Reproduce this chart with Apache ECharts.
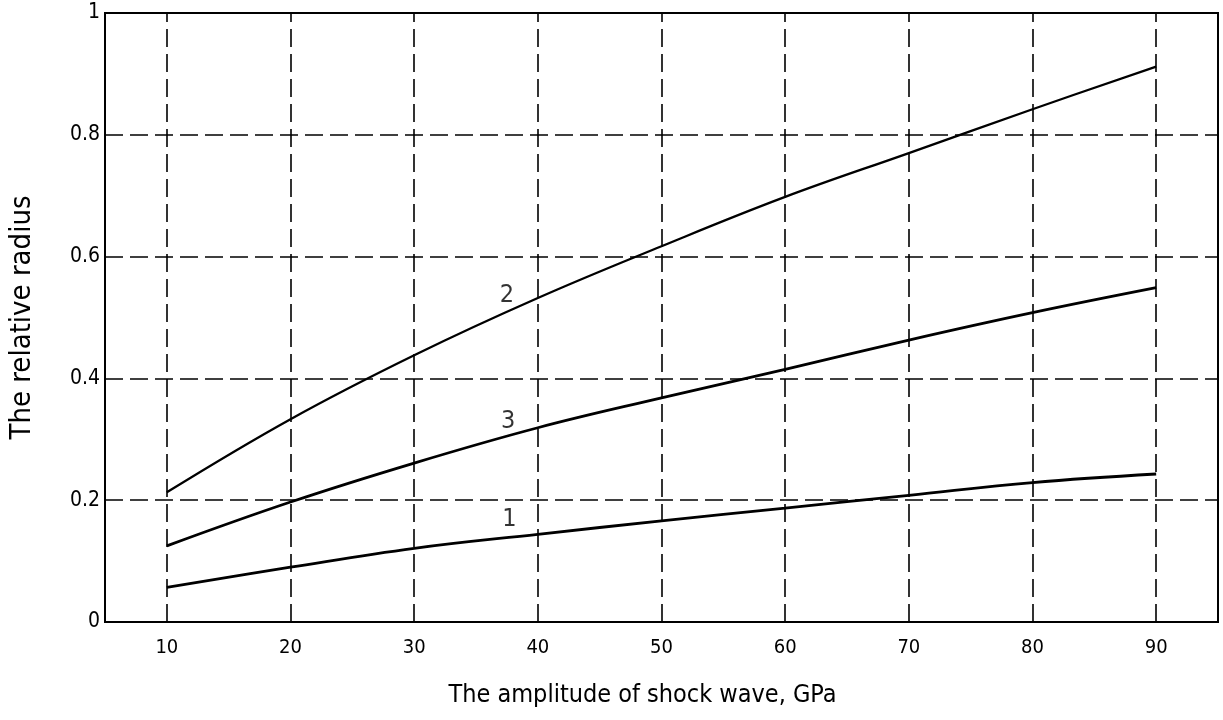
<!DOCTYPE html>
<html>
<head>
<meta charset="utf-8">
<script src="https://cdn.jsdelivr.net/npm/echarts@6/dist/echarts.min.js"></script>
<style>
  html, body { margin: 0; padding: 0; background: #fff; }
  #chart { width: 1223px; height: 720px; }
</style>
</head>
<body>
<div id="chart"></div>
<script>
// shock wave amplitude, GPa
const amplitude = [10, 20, 30, 40, 50, 60, 70, 80, 90];
// relative radius, curves 1..3
const curve1 = [0.057, 0.090, 0.121, 0.144, 0.166, 0.187, 0.208, 0.229, 0.243];
const curve2 = [0.213, 0.333, 0.438, 0.532, 0.617, 0.698, 0.770, 0.842, 0.912];
const curve3 = [0.125, 0.197, 0.261, 0.319, 0.368, 0.415, 0.463, 0.508, 0.549];

const xGridValues = [10, 20, 30, 40, 50, 60, 70, 80, 90];
const curveNames = ["1", "2", "3"];
const curveLabelX = [37.7, 37.5, 37.6];
const curveLabelY = [0.168, 0.536, 0.329];

const FONT = "'DejaVu Sans Condensed', 'Liberation Sans Narrow', 'DejaVu Sans', sans-serif";
const dash = [18, 7];

const chart = echarts.init(document.getElementById("chart"));

function lineSeries(name, values, width) {
  return {
    name: name,
    type: "line",
    smooth: 0.4,
    symbol: "none",
    silent: true,
    lineStyle: { color: "#000", width: width },
    data: amplitude.map((x, i) => [x, values[i]])
  };
}

const gridSeries = lineSeries("1", curve1, 2.8);
gridSeries.markLine = {
  silent: true,
  symbol: "none",
  label: { show: false },
  lineStyle: { color: "#000", width: 1.6, type: dash },
  data: xGridValues.map((x) => ({ xAxis: x }))
};

chart.setOption({
  animation: false,
  backgroundColor: "#fff",
  textStyle: { fontFamily: FONT },
  grid: {
    left: 105, right: 5, top: 13, bottom: 98,
    show: true, borderColor: "#000", borderWidth: 2
  },
  xAxis: {
    type: "value",
    min: 5,
    max: 95,
    interval: 5,
    name: "The amplitude of shock wave, GPa",
    nameLocation: "middle",
    nameGap: 61,
    nameTextStyle: { fontSize: 25, color: "#000", fontFamily: FONT, padding: [0, 38, 0, 0] },
    axisLine: { show: true, lineStyle: { color: "#000", width: 2 } },
    axisTick: { show: false },
    splitLine: { show: false },
    axisLabel: {
      color: "#000",
      fontSize: 20,
      margin: 16,
      fontFamily: FONT,
      formatter: (v) => (v % 10 === 0 ? String(v) : "")
    }
  },
  yAxis: {
    type: "value",
    min: 0,
    max: 1,
    interval: 0.2,
    name: "The relative radius",
    nameLocation: "middle",
    nameGap: 68,
    nameTextStyle: { fontSize: 29, color: "#000", fontFamily: FONT },
    axisLine: { show: true, lineStyle: { color: "#000", width: 2 } },
    axisTick: { show: false },
    splitLine: { show: true, lineStyle: { color: "#000", width: 1.6, type: dash } },
    axisLabel: {
      color: "#000",
      fontSize: 21,
      margin: 5,
      fontFamily: FONT,
      formatter: (v) => String(Math.round(v * 10) / 10)
    }
  },
  series: [
    gridSeries,
    lineSeries("2", curve2, 2.3),
    lineSeries("3", curve3, 2.8),
    {
      name: "labels",
      type: "scatter",
      silent: true,
      symbolSize: 0,
      label: {
        show: true,
        position: "inside",
        color: "#000",
        fontSize: 25,
        fontFamily: FONT,
        formatter: (p) => p.name
      },
      data: curveNames.map((n, i) => ({ name: n, value: [curveLabelX[i], curveLabelY[i]] }))
    }
  ]
});
</script>
</body>
</html>
